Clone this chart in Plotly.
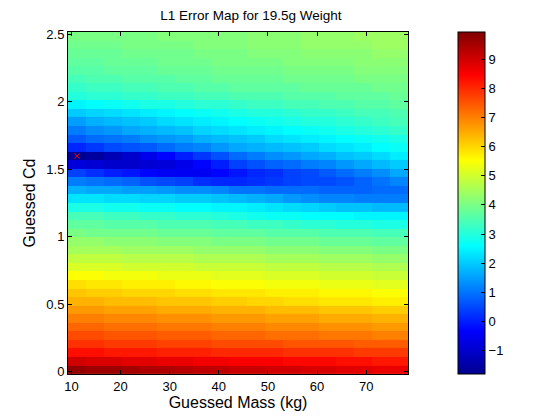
import plotly.graph_objects as go

# guessed mass grid (kg), column centres
mass = [11.12, 14.76, 18.40, 22.05, 25.69, 29.33, 32.97, 36.62, 40.26, 43.90,
        47.54, 51.18, 54.83, 58.47, 62.11, 65.75, 69.40, 73.04, 76.68]

# guessed Cd grid, row centres
cd = [0.015, 0.078, 0.142, 0.205, 0.268, 0.332, 0.395, 0.458, 0.522, 0.585,
      0.648, 0.712, 0.775, 0.838, 0.902, 0.965, 1.028, 1.092, 1.155, 1.218,
      1.282, 1.345, 1.408, 1.472, 1.535, 1.598, 1.662, 1.725, 1.788, 1.852,
      1.915, 1.978, 2.042, 2.105, 2.168, 2.232, 2.295, 2.358, 2.422, 2.485]

# L1 error, one row per Cd value (bottom to top)
err = [
    [9.7, 9.6, 9.6, 9.5, 9.4, 9.4, 9.3, 9.2, 9.2, 9.1, 9.1, 9.0, 9.0, 8.9, 8.9, 8.8, 8.8, 8.7, 8.7],
    [9.0, 8.9, 8.9, 8.8, 8.8, 8.7, 8.7, 8.6, 8.6, 8.5, 8.5, 8.5, 8.4, 8.4, 8.4, 8.3, 8.3, 8.2, 8.2],
    [8.3, 8.3, 8.2, 8.2, 8.2, 8.1, 8.1, 8.1, 8.0, 8.0, 8.0, 8.0, 7.9, 7.9, 7.9, 7.9, 7.8, 7.8, 7.8],
    [7.9, 7.9, 7.8, 7.8, 7.8, 7.7, 7.7, 7.7, 7.6, 7.6, 7.6, 7.6, 7.5, 7.5, 7.5, 7.5, 7.4, 7.4, 7.4],
    [7.6, 7.6, 7.5, 7.5, 7.5, 7.4, 7.4, 7.4, 7.3, 7.3, 7.3, 7.2, 7.2, 7.2, 7.1, 7.1, 7.1, 7.0, 7.0],
    [7.3, 7.3, 7.2, 7.2, 7.2, 7.1, 7.1, 7.1, 7.0, 7.0, 7.0, 6.9, 6.9, 6.9, 6.8, 6.8, 6.8, 6.7, 6.7],
    [7.0, 7.0, 6.9, 6.9, 6.9, 6.8, 6.8, 6.8, 6.7, 6.7, 6.7, 6.6, 6.6, 6.6, 6.5, 6.5, 6.5, 6.4, 6.4],
    [6.7, 6.7, 6.6, 6.6, 6.6, 6.5, 6.5, 6.5, 6.4, 6.4, 6.4, 6.3, 6.3, 6.3, 6.2, 6.2, 6.2, 6.1, 6.1],
    [6.4, 6.4, 6.3, 6.3, 6.3, 6.2, 6.2, 6.2, 6.1, 6.1, 6.0, 6.0, 5.9, 5.9, 5.8, 5.8, 5.8, 5.7, 5.7],
    [6.2, 6.1, 6.1, 6.0, 6.0, 6.0, 5.9, 5.9, 5.8, 5.8, 5.8, 5.7, 5.7, 5.7, 5.6, 5.6, 5.6, 5.5, 5.5],
    [5.9, 5.8, 5.8, 5.7, 5.7, 5.7, 5.6, 5.6, 5.5, 5.5, 5.5, 5.4, 5.4, 5.4, 5.3, 5.3, 5.3, 5.2, 5.2],
    [5.5, 5.5, 5.4, 5.4, 5.4, 5.3, 5.3, 5.3, 5.2, 5.2, 5.2, 5.1, 5.1, 5.1, 5.0, 5.0, 5.0, 4.9, 4.9],
    [5.1, 5.1, 5.1, 5.0, 5.0, 5.0, 5.0, 4.9, 4.9, 4.9, 4.9, 4.8, 4.8, 4.8, 4.7, 4.7, 4.7, 4.6, 4.6],
    [4.8, 4.8, 4.8, 4.7, 4.7, 4.7, 4.7, 4.6, 4.6, 4.6, 4.6, 4.5, 4.5, 4.5, 4.4, 4.4, 4.4, 4.3, 4.3],
    [4.5, 4.5, 4.5, 4.4, 4.4, 4.4, 4.4, 4.3, 4.3, 4.3, 4.3, 4.2, 4.2, 4.2, 4.1, 4.1, 4.1, 4.0, 4.0],
    [4.3, 4.3, 4.2, 4.2, 4.2, 4.1, 4.1, 4.1, 4.0, 4.0, 4.0, 3.9, 3.9, 3.9, 3.8, 3.8, 3.8, 3.7, 3.7],
    [4.0, 3.9, 3.9, 3.9, 3.9, 3.8, 3.8, 3.8, 3.7, 3.7, 3.7, 3.6, 3.6, 3.6, 3.5, 3.5, 3.5, 3.4, 3.4],
    [3.7, 3.7, 3.6, 3.6, 3.6, 3.5, 3.5, 3.5, 3.4, 3.4, 3.3, 3.3, 3.2, 3.1, 3.1, 3.0, 3.0, 2.9, 2.9],
    [3.4, 3.4, 3.3, 3.3, 3.2, 3.2, 3.1, 3.1, 3.0, 2.9, 2.8, 2.7, 2.7, 2.6, 2.6, 2.6, 2.5, 2.5, 2.5],
    [2.9, 2.9, 2.8, 2.8, 2.7, 2.7, 2.6, 2.6, 2.5, 2.5, 2.4, 2.3, 2.2, 2.1, 2.0, 1.9, 1.9, 1.8, 1.8],
    [2.3, 2.3, 2.2, 2.2, 2.1, 2.1, 2.0, 2.0, 1.9, 1.8, 1.7, 1.6, 1.4, 1.3, 1.2, 1.2, 1.1, 1.1, 1.1],
    [1.7, 1.6, 1.6, 1.5, 1.5, 1.4, 1.3, 1.3, 1.2, 1.0, 1.0, 0.9, 0.9, 0.9, 0.8, 0.8, 0.8, 0.9, 0.9],
    [1.1, 1.0, 0.9, 0.8, 0.6, 0.5, 0.4, 0.2, 0.1, 0.1, 0.2, 0.3, 0.4, 0.5, 0.5, 0.6, 0.8, 1.0, 1.2],
    [0.4, 0.2, 0.0, -0.1, -0.3, -0.5, -0.5, -0.5, -0.3, -0.1, 0.1, 0.2, 0.4, 0.5, 0.7, 0.9, 1.1, 1.3, 1.6],
    [-0.8, -0.9, -1.0, -1.0, -0.9, -0.8, -0.6, -0.3, 0.0, 0.4, 0.6, 0.8, 0.9, 1.1, 1.2, 1.4, 1.6, 1.8, 2.0],
    [-1.75, -1.6, -1.3, -1.0, -0.6, -0.3, 0.0, 0.3, 0.6, 0.9, 1.1, 1.3, 1.4, 1.6, 1.7, 1.9, 2.0, 2.2, 2.4],
    [0.1, 0.3, 0.5, 0.6, 0.7, 0.9, 1.1, 1.2, 1.4, 1.6, 1.7, 1.8, 1.9, 2.0, 2.2, 2.3, 2.4, 2.6, 2.7],
    [0.7, 0.9, 1.0, 1.1, 1.3, 1.4, 1.5, 1.7, 1.8, 1.9, 2.0, 2.2, 2.3, 2.4, 2.5, 2.6, 2.7, 2.8, 2.9],
    [1.1, 1.3, 1.4, 1.6, 1.7, 1.8, 1.9, 2.1, 2.2, 2.3, 2.4, 2.5, 2.6, 2.7, 2.8, 2.9, 3.0, 3.1, 3.2],
    [1.5, 1.7, 1.8, 1.9, 2.0, 2.2, 2.3, 2.4, 2.5, 2.6, 2.7, 2.8, 2.9, 3.0, 3.0, 3.1, 3.2, 3.3, 3.4],
    [2.0, 2.1, 2.2, 2.3, 2.4, 2.5, 2.6, 2.7, 2.8, 2.9, 3.0, 3.0, 3.1, 3.2, 3.2, 3.3, 3.4, 3.4, 3.5],
    [2.5, 2.6, 2.7, 2.8, 2.9, 2.9, 3.0, 3.1, 3.1, 3.2, 3.3, 3.3, 3.4, 3.4, 3.5, 3.5, 3.6, 3.6, 3.7],
    [3.0, 3.1, 3.1, 3.2, 3.2, 3.3, 3.3, 3.4, 3.4, 3.5, 3.5, 3.5, 3.6, 3.6, 3.6, 3.7, 3.7, 3.7, 3.8],
    [3.2, 3.3, 3.3, 3.4, 3.4, 3.5, 3.5, 3.6, 3.6, 3.7, 3.7, 3.7, 3.7, 3.8, 3.8, 3.8, 3.8, 3.9, 3.9],
    [3.4, 3.5, 3.5, 3.6, 3.6, 3.6, 3.7, 3.7, 3.8, 3.8, 3.8, 3.8, 3.9, 3.9, 3.9, 3.9, 4.0, 4.0, 4.0],
    [3.6, 3.6, 3.7, 3.7, 3.7, 3.8, 3.8, 3.8, 3.9, 3.9, 3.9, 3.9, 4.0, 4.0, 4.0, 4.0, 4.1, 4.1, 4.1],
    [3.7, 3.7, 3.8, 3.8, 3.8, 3.9, 3.9, 3.9, 4.0, 4.0, 4.0, 4.0, 4.1, 4.1, 4.1, 4.1, 4.2, 4.2, 4.2],
    [3.8, 3.8, 3.8, 3.9, 3.9, 3.9, 3.9, 4.0, 4.0, 4.0, 4.1, 4.1, 4.1, 4.2, 4.2, 4.2, 4.2, 4.3, 4.3],
    [3.9, 3.9, 3.9, 4.0, 4.0, 4.0, 4.0, 4.1, 4.1, 4.1, 4.2, 4.2, 4.2, 4.3, 4.3, 4.3, 4.3, 4.4, 4.4],
    [4.0, 4.0, 4.0, 4.0, 4.0, 4.1, 4.1, 4.1, 4.1, 4.1, 4.2, 4.2, 4.2, 4.3, 4.3, 4.3, 4.4, 4.4, 4.4],
]

# best guess marker
best_mass = [11.12]
best_cd = [1.598]

cbar_ticks = [-1, 0, 1, 2, 3, 4, 5, 6, 7, 8, 9]

jet = [[0.0, 'rgb(0,0,143)'], [0.125, 'rgb(0,0,255)'], [0.375, 'rgb(0,255,255)'],
       [0.625, 'rgb(255,255,0)'], [0.875, 'rgb(255,0,0)'], [1.0, 'rgb(128,0,0)']]

fig = go.Figure()
fig.add_trace(go.Heatmap(
    x=mass, y=cd, z=err, zmin=-1.8, zmax=9.93, colorscale=jet, zsmooth=False,
    colorbar=dict(
        x=1.147, xanchor='left', xpad=0, ypad=0, y=0.5, yanchor='middle',
        len=1.0, lenmode='fraction', thickness=27, thicknessmode='pixels',
        outlinewidth=1, outlinecolor='black',
        tickvals=cbar_ticks, ticks='inside', ticklen=4, tickcolor='black',
        tickfont=dict(size=13, color='black'),
    ),
))
fig.add_trace(go.Scatter(
    x=best_mass, y=best_cd, mode='markers', showlegend=False,
    marker=dict(symbol='x-thin', size=5, line=dict(color='red', width=1)),
))

axis_style = dict(showline=True, linecolor='black', linewidth=1, mirror='ticks',
                  ticks='inside', ticklen=4, tickcolor='black', showgrid=False,
                  zeroline=False, tickfont=dict(size=13, color='black'))

# page body adds an 8px offset, so the figure is 8px smaller and shifted up/left
fig.update_layout(
    width=552, height=412,
    margin=dict(l=60, r=152, t=24, b=46),
    paper_bgcolor='white', plot_bgcolor='white',
    font=dict(family='Liberation Sans, Arial, sans-serif', size=13, color='black'),
    title=dict(text='L1 Error Map for 19.5g Weight', x=0.44, xanchor='center',
               y=0.983, yanchor='middle', font=dict(size=13.5)),
    xaxis=dict(range=[9.3, 78.5], tickvals=[10, 20, 30, 40, 50, 60, 70],
               title=dict(text='Guessed Mass (kg)', standoff=4), **axis_style),
    yaxis=dict(range=[-0.017, 2.516], tickvals=[0, 0.5, 1, 1.5, 2, 2.5],
               ticktext=['0', '0.5', '1', '1.5', '2', '2.5'],
               title=dict(text='Guessed Cd', standoff=6), **axis_style),
)

fig.write_html("out.html")
